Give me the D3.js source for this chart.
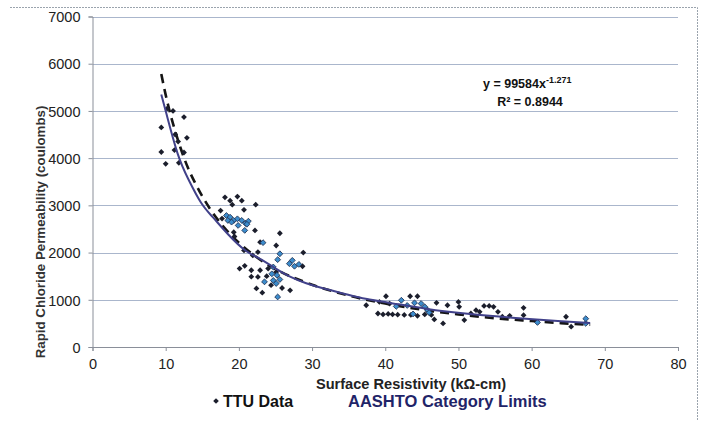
<!DOCTYPE html>
<html>
<head>
    <meta charset="utf-8">
    <title>Surface Resistivity vs RCP</title>
    <script type="text/javascript" src="https://cdn.jsdelivr.net/npm/d3@7/dist/d3.min.js"></script>
    <style>
        body { margin: 0; background: #fff; }
        svg { font-family: "Liberation Sans", Arial, sans-serif; }
        .grid line { stroke: #aab6cc; stroke-width: 1; }
    </style>
</head>
<body>
<script type="text/javascript">
    // tick labels
    var xTicks = [0, 10, 20, 30, 40, 50, 60, 70, 80];
    var yTicks = [0, 1000, 2000, 3000, 4000, 5000, 6000, 7000];

    // TTU data, dark markers  [resistivity kOhm-cm, coulombs]
    var ttuDark = [
        [10.2, 5050], [11.0, 5000], [12.5, 4870], [9.4, 4650], [11.3, 4500], [12.9, 4430],
        [9.4, 4130], [11.2, 4170], [12.5, 4120], [10.0, 3880], [11.8, 3900], [11.7, 4350],
        [18.1, 3170], [18.8, 3100], [19.8, 3185], [20.4, 3100], [17.5, 2890], [19.1, 3015],
        [20.7, 2905], [22.3, 3015], [22.2, 2470], [19.3, 2430], [19.4, 2340], [17.7, 2720],
        [25.6, 2410], [25.1, 2150], [22.9, 2220], [22.6, 2010], [28.8, 2000], [20.7, 2045],
        [21.9, 1940], [20.1, 1660], [20.8, 1720], [21.7, 1625], [22.9, 1625], [24.0, 1660],
        [28.7, 1710], [21.7, 1490], [22.6, 1485], [23.8, 1500], [25.1, 1590], [22.4, 1240],
        [23.2, 1150], [25.9, 1250], [27.0, 1200], [24.4, 1310],
        [37.4, 885], [39.2, 955], [40.1, 1075], [40.6, 920], [43.4, 1075], [44.4, 1075],
        [47.0, 935], [48.5, 885], [50.0, 955], [50.1, 850], [39.0, 710], [39.7, 690],
        [40.4, 700], [41.0, 690], [41.7, 685], [42.6, 680], [43.5, 680], [44.4, 660],
        [45.4, 690], [46.3, 680], [46.7, 585], [47.9, 500], [50.8, 570], [51.7, 710],
        [52.9, 745], [52.4, 780],
        [53.5, 870], [54.2, 870], [54.8, 850], [55.4, 745], [56.0, 640], [58.9, 830],
        [58.9, 675], [64.7, 640], [65.4, 430], [57.0, 660]
    ];

    // TTU data, light blue markers (dense part of the clusters)
    var ttuBlue = [
        [18.3, 2785], [18.8, 2750], [19.3, 2680], [19.8, 2715], [20.4, 2680], [20.9, 2620],
        [21.3, 2665], [18.5, 2680], [19.0, 2645], [19.9, 2575], [20.8, 2470], [21.1, 2600],
        [23.3, 2210], [25.3, 1850], [27.3, 1835], [26.9, 1765], [27.6, 1710], [28.2, 1750],
        [24.7, 1695], [23.5, 1380], [24.7, 1410], [25.1, 1345], [25.6, 1430], [25.3, 1060],
        [25.6, 1975], [24.5, 1550], [25.2, 1520],
        [42.2, 990], [44.0, 935], [44.9, 920], [45.4, 850], [45.8, 780], [43.0, 880],
        [41.5, 860], [43.8, 700], [46.0, 730], [60.8, 520], [67.4, 500], [67.4, 600]
    ];

    // power trendline (dashed)
    var fitX = [9.4, 10, 11, 12, 13, 14, 16, 18, 20, 22, 25, 30, 35, 40, 45, 50, 55, 60, 64, 68];
    var fitY = [5780, 5340, 4730, 4230, 3810, 3480, 2940, 2530, 2210, 1950, 1650, 1320, 1090, 920, 790, 690, 610, 550, 505, 470];

    // AASHTO category limits curve (solid)
    var limX = [9.4, 10, 11.7, 13, 14.9, 16.3, 18.5, 21, 22.9, 24.7, 26.9, 29.2, 31.5, 33.8, 36.9, 40, 46, 50.6, 55.1, 59.7, 64.2, 68];
    var limY = [5350, 5000, 4000, 3580, 3000, 2780, 2380, 2000, 1880, 1690, 1485, 1345, 1240, 1150, 1025, 955, 790, 710, 650, 590, 540, 510];

    var w = 702, h = 421;

    var svg = d3.select("body").append("svg")
            .attr("width", w)
            .attr("height", h);

    var x = d3.scaleLinear().domain([0, 80]).range([92.5, 678]);
    var y = d3.scaleLinear().domain([0, 7000]).range([347, 16.5]);

    // outer chart border (top + right)
    svg.append("path")
            .attr("d", "M10,7.5H697.5V421")
            .attr("fill", "none")
            .attr("stroke", "#9aa3ad")
            .attr("stroke-dasharray", "2,1");

    // gridlines
    svg.append("g").attr("class", "grid")
            .selectAll("line")
            .data(yTicks.slice(1))
            .enter()
            .append("line")
            .attr("x1", x(0)).attr("x2", x(80))
            .attr("y1", function(d) { return Math.round(y(d)) + 0.5; })
            .attr("y2", function(d) { return Math.round(y(d)) + 0.5; });

    // axes
    var yAxis = svg.append("g")
            .attr("transform", "translate(" + x(0) + ",0)")
            .call(d3.axisLeft(y).tickValues(yTicks).tickFormat(d3.format("d"))
                    .tickSize(4).tickPadding(8));
    var xAxis = svg.append("g")
            .attr("transform", "translate(0," + y(0) + ")")
            .call(d3.axisBottom(x).tickValues(xTicks).tickFormat(d3.format("d"))
                    .tickSize(4).tickPadding(6));

    [xAxis, yAxis].forEach(function(g) {
        g.select(".domain").attr("stroke", "#8a8f99");
        g.selectAll(".tick line").attr("stroke", "#8a8f99");
        g.selectAll("text")
                .attr("font-family", "Liberation Sans, Arial, sans-serif")
                .attr("font-size", "14.5px")
                .attr("fill", "#222");
    });
    yAxis.selectAll("text").attr("dy", "0.36em");
    xAxis.selectAll("text").attr("dy", "0.85em");

    // curves
    var fitPts = fitX.map(function(d, i) { return [d, fitY[i]]; });
    var limPts = limX.map(function(d, i) { return [d, limY[i]]; });

    var line = d3.line()
            .x(function(d) { return x(d[0]); })
            .y(function(d) { return y(d[1]); });

    svg.append("path")
            .attr("d", line.curve(d3.curveMonotoneX)(fitPts))
            .attr("fill", "none")
            .attr("stroke", "#151515")
            .attr("stroke-width", 2.6)
            .attr("stroke-dasharray", "9,6");

    // small square turned 45deg = Excel diamond marker
    var diamond = d3.symbol().type(d3.symbolSquare).size(17);
    function place(d) {
        return "translate(" + x(d[0]) + "," + y(d[1]) + ") rotate(45)";
    }

    svg.append("g").selectAll("path")
            .data(ttuDark)
            .enter()
            .append("path")
            .attr("d", diamond)
            .attr("transform", place)
            .attr("fill", "#1b1e2c");

    svg.append("g").selectAll("path")
            .data(ttuBlue)
            .enter()
            .append("path")
            .attr("d", diamond)
            .attr("transform", place)
            .attr("fill", "#3c8ccc")
            .attr("stroke", "#1d2f50")
            .attr("stroke-width", 0.8);

    svg.append("path")
            .attr("d", line.curve(d3.curveBasis)(limPts))
            .attr("fill", "none")
            .attr("stroke", "#41418a")
            .attr("stroke-width", 2);

    // equation
    var eq = svg.append("text")
            .attr("x", 483).attr("y", 88)
            .attr("font-size", "12.5px")
            .attr("font-weight", "bold")
            .attr("fill", "#111");
    eq.append("tspan").text("y = 99584x");
    eq.append("tspan").attr("dy", -5).attr("font-size", "9px").text("-1.271");
    svg.append("text")
            .attr("x", 530).attr("y", 106)
            .attr("text-anchor", "middle")
            .attr("font-size", "12.5px")
            .attr("font-weight", "bold")
            .attr("fill", "#111")
            .text("R\u00b2 = 0.8944");

    // axis titles
    svg.append("text")
            .attr("transform", "translate(45,232) rotate(-90)")
            .attr("text-anchor", "middle")
            .attr("font-size", "13.3px")
            .attr("font-weight", "bold")
            .attr("fill", "#333")
            .text("Rapid Chloride Permeability (coulombs)");

    svg.append("text")
            .attr("x", 411).attr("y", 389)
            .attr("text-anchor", "middle")
            .attr("font-size", "14.6px")
            .attr("font-weight", "bold")
            .attr("fill", "#222")
            .text("Surface Resistivity (k\u03a9-cm)");

    // legend
    svg.append("path")
            .attr("d", d3.symbol().type(d3.symbolSquare).size(16))
            .attr("transform", "translate(216,401) rotate(45)")
            .attr("fill", "#1b1e2c");
    svg.append("text")
            .attr("x", 223).attr("y", 407)
            .attr("font-size", "16px")
            .attr("font-weight", "bold")
            .attr("fill", "#111")
            .text("TTU Data");
    svg.append("text")
            .attr("x", 348).attr("y", 407)
            .attr("font-size", "16.5px")
            .attr("font-weight", "bold")
            .attr("fill", "#1f2468")
            .text("AASHTO Category Limits");
</script>
</body>
</html>
